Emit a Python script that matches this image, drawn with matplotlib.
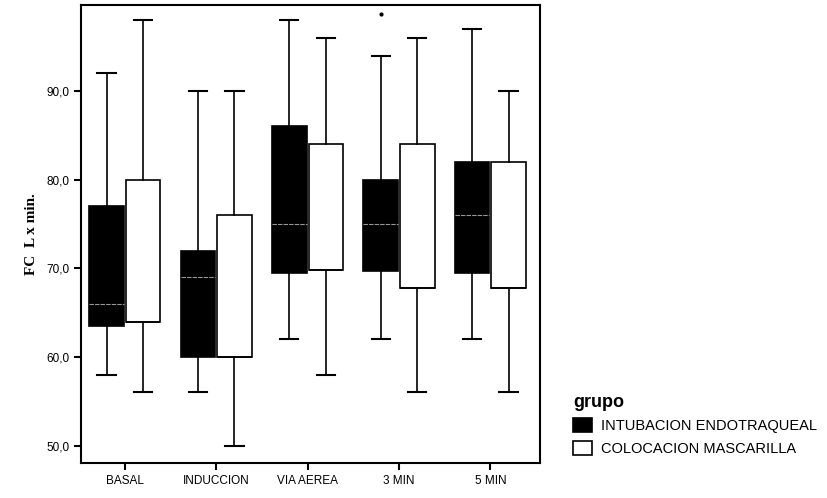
import matplotlib.pyplot as plt
from matplotlib.patches import Patch

categories = ['BASAL', 'INDUCCION', 'VIA AEREA', '3 MIN', '5 MIN']
groups = ['INTUBACION ENDOTRAQUEAL', 'COLOCACION MASCARILLA']

# whisker low, q1, median, q3, whisker high
intubacion = [
    [58, 63.5, 66, 77, 92],
    [56, 60, 69, 72, 90],
    [62, 69.5, 75, 86, 98],
    [62, 69.7, 75, 80, 94],
    [62, 69.5, 76, 82, 97],
]
mascarilla = [
    [56, 64, 64, 80, 98],
    [50, 60, 60, 76, 90],
    [58, 69.8, 69.8, 84, 96],
    [56, 67.8, 67.8, 84, 96],
    [56, 67.8, 67.8, 82, 90],
]
outliers_int = [[], [], [], [98.7], []]

plt.rcParams['font.family'] = ['Liberation Sans', 'DejaVu Sans']

fig = plt.figure(figsize=(8.28, 4.98), dpi=100)
ax = fig.add_axes([0.0978, 0.0703, 0.554, 0.9197])


def stats(rows, fl=None):
    out = []
    for i, r in enumerate(rows):
        out.append(dict(whislo=r[0], q1=r[1], med=r[2], q3=r[3], whishi=r[4],
                        fliers=(fl[i] if fl else [])))
    return out


pos = list(range(1, len(categories) + 1))
w = 0.38
ax.bxp(stats(intubacion, outliers_int), positions=[p - 0.2 for p in pos], widths=w,
       patch_artist=True, showfliers=True,
       boxprops=dict(facecolor='black', edgecolor='black', linewidth=1.2),
       medianprops=dict(color='white', linewidth=0.8, alpha=0.6, linestyle=(0, (4, 1))),
       whiskerprops=dict(color='black', linewidth=1.2),
       capprops=dict(color='black', linewidth=1.5),
       capwidths=0.2,
       flierprops=dict(marker='o', markersize=2, markerfacecolor='black',
                       markeredgecolor='black'))
ax.bxp(stats(mascarilla), positions=[p + 0.2 for p in pos], widths=w,
       patch_artist=True, showfliers=False,
       boxprops=dict(facecolor='white', edgecolor='black', linewidth=1.2),
       medianprops=dict(color='black', linewidth=1.2),
       whiskerprops=dict(color='black', linewidth=1.2),
       capprops=dict(color='black', linewidth=1.5),
       capwidths=0.2)

ax.set_xlim(0.52, 5.54)
ax.set_ylim(48.05, 99.7)
ax.set_xticks(pos)
ax.set_xticklabels(categories, fontsize=8.5)
ax.set_yticks([50, 60, 70, 80, 90])
ax.set_yticklabels(['50,0', '60,0', '70,0', '80,0', '90,0'], fontsize=8.5)
ax.tick_params(direction='out', length=5, width=1.5)
for s in ax.spines.values():
    s.set_linewidth(1.5)
ax.set_ylabel('FC  L x min.', fontfamily='Liberation Serif', fontweight='bold',
              fontsize=11, labelpad=6)

handles = [Patch(facecolor='black', edgecolor='black', linewidth=1.2),
           Patch(facecolor='white', edgecolor='black', linewidth=1.2)]
fig.legend(handles, groups, loc='upper left', bbox_to_anchor=(0.678, 0.232),
           frameon=False, title='grupo', fontsize=10.5,
           title_fontproperties=dict(weight='bold', size=13),
           handlelength=1.3, handleheight=1.1, handletextpad=0.6,
           labelspacing=0.5, alignment='left', borderpad=0.3)

fig.savefig('out.png', dpi=100)
